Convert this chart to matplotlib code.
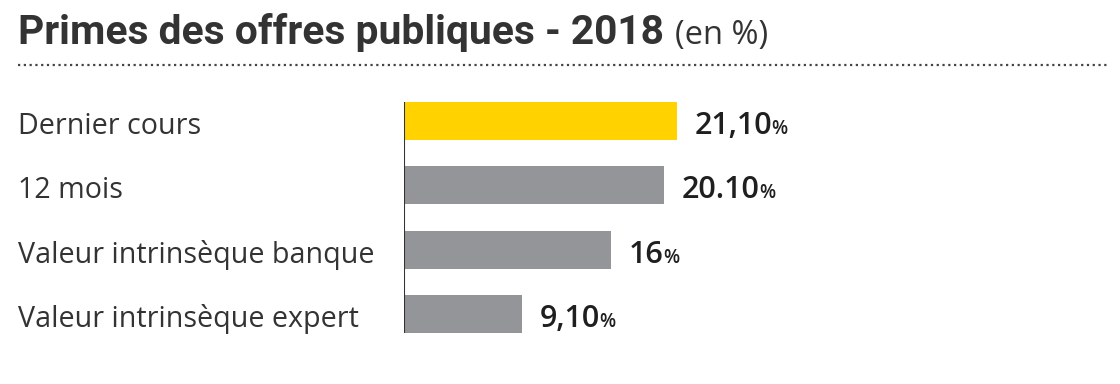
import matplotlib
matplotlib.use("Agg")
import matplotlib.pyplot as plt
from matplotlib.transforms import blended_transform_factory, offset_copy

# Data
categories = ["Dernier cours", "12 mois", "Valeur intrinsèque banque", "Valeur intrinsèque expert"]
values = [21.1, 20.1, 16.0, 9.1]
value_labels = ["21,10", "20.10", "16", "9,10"]
colors = ["#FFD200", "#939598", "#939598", "#939598"]

W, H = 1120, 384
fig = plt.figure(figsize=(W / 100, H / 100), dpi=100)
fig.patch.set_facecolor("white")

# axes placed so the baseline sits at x=404px
ax = fig.add_axes([404 / W, 1 - 333 / H, (W - 404) / W, 231 / H])
ypos = list(range(len(categories)))
ax.barh(ypos, values, height=0.59, color=colors, zorder=2)
ax.set_xlim(0, (W - 404) / 12.93)
ax.set_ylim(3.295, -0.295)
ax.axvline(0, color="#333333", lw=1.5, zorder=3)
ax.set_xticks([])
ax.set_yticks([])
for s in ax.spines.values():
    s.set_visible(False)

txt_color = "#1f1f1f"
trans = blended_transform_factory(fig.transFigure, ax.transData)
for y, cat in zip(ypos, categories):
    ax.text(18 / W, y + 0.2, cat, transform=trans, ha="left", va="baseline",
            fontsize=20.6, family="Open Sans", color="#333333")

renderer = fig.canvas.get_renderer()
for y, v, lab in zip(ypos, values, value_labels):
    t = ax.text(v, y + 0.2, lab, ha="left", va="baseline", fontsize=22,
                family="Open Sans", weight="semibold", color=txt_color,
                transform=offset_copy(ax.transData, fig=fig, x=18, y=0, units="dots"))
    bb = t.get_window_extent(renderer)
    ax.text(bb.x1 / W - 1 / W, y + 0.2, "%", transform=trans,
            ha="left", va="baseline", fontsize=13.5, family="Open Sans",
            weight="semibold", color=txt_color)

# Title
title = fig.text(18 / W, 1 - 44 / H, "Primes des offres publiques - 2018", ha="left", va="baseline",
                 fontsize=29.3, weight="bold", family="Roboto", color="#333333")
bb = title.get_window_extent(renderer)
fig.text(bb.x1 / W + 11 / W, 1 - 44 / H, "(en %)", ha="left", va="baseline",
         fontsize=23.5, family="Open Sans", color="#333333")

# dotted rule under the title
fig.add_artist(plt.Line2D([18 / W, 1108 / W], [1 - 65 / H, 1 - 65 / H], transform=fig.transFigure,
                          color="#444444", lw=1.6, linestyle=(0, (1, 1.6))))

fig.savefig("out.png", dpi=100, facecolor="white")
